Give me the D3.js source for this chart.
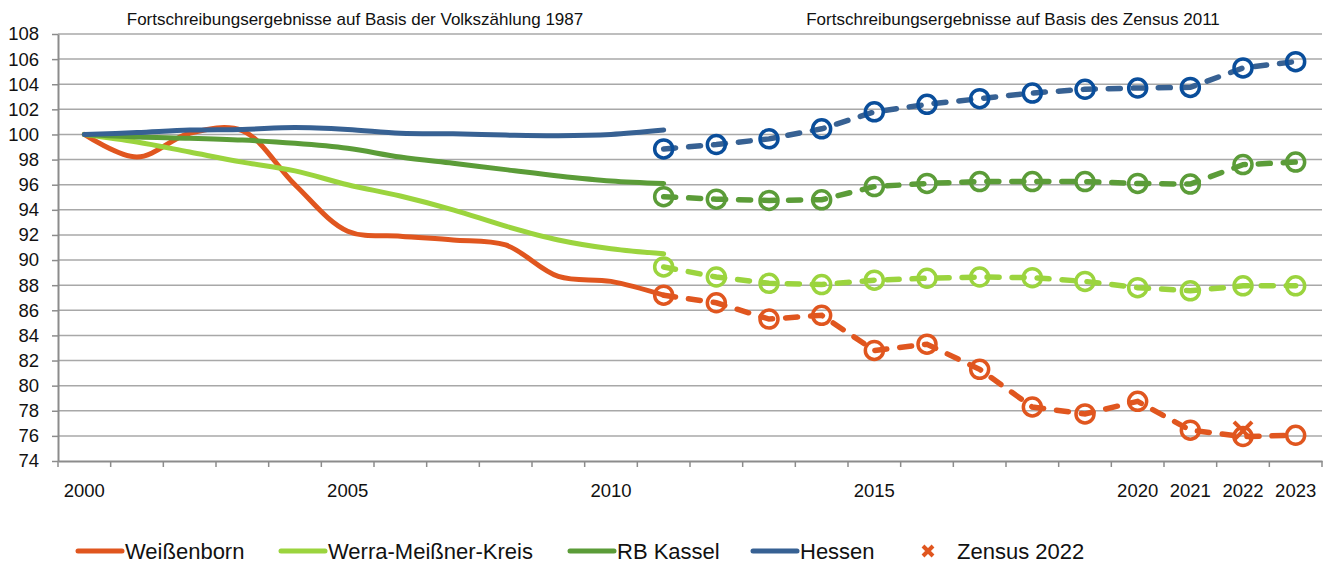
<!DOCTYPE html>
<html>
<head>
<meta charset="utf-8">
<script src="https://cdn.jsdelivr.net/npm/d3@7"></script>
<style>
  body { margin: 0; background: #fff; }
  svg { display: block; font-family: "Liberation Sans", Arial, sans-serif; }
</style>
</head>
<body>
<svg id="chart" width="1329" height="565"></svg>
<script>
// years on the category axis
var years = ["2000","2001","2002","2003","2004","2005","2006","2007","2008","2009","2010","2011",
  "2012","2013","2014","2015","2016","2017","2018","2019","2020","2021","2022","2023"];
var labelYears = ["2000","2005","2010","2015","2020","2021","2022","2023"];
var yTicks = [74,76,78,80,82,84,86,88,90,92,94,96,98,100,102,104,106,108];

// Fortschreibung auf Basis der Volkszaehlung 1987 (2000-2011)
var yearsVz = years.slice(0, 12);
var weissVz  = [100, 98.2, 100.1, 100.3, 96.0, 92.3, 91.9, 91.6, 91.2, 88.7, 88.3, 87.2];
var wmkVz    = [100, 99.4, 98.6, 97.8, 97.1, 96.0, 95.1, 94.0, 92.7, 91.6, 90.9, 90.5];
var rbkVz    = [100, 99.8, 99.7, 99.55, 99.3, 98.9, 98.2, 97.7, 97.2, 96.7, 96.3, 96.1];
var hessenVz = [100, 100.15, 100.35, 100.4, 100.55, 100.4, 100.1, 100.05, 99.95, 99.9, 100.0, 100.35];

// Fortschreibung auf Basis des Zensus 2011 (2011-2023)
var yearsZ = years.slice(11);
var weissZ  = [87.2, 86.6, 85.3, 85.6, 82.8, 83.3, 81.3, 78.3, 77.75, 78.75, 76.45, 75.95, 76.05];
var wmkZ    = [89.45, 88.65, 88.15, 88.05, 88.4, 88.55, 88.65, 88.6, 88.3, 87.8, 87.55, 87.95, 87.95];
var rbkZ    = [95.05, 94.85, 94.75, 94.8, 95.85, 96.1, 96.25, 96.25, 96.25, 96.1, 96.05, 97.6, 97.8];
var hessenZ = [98.85, 99.2, 99.65, 100.45, 101.8, 102.4, 102.85, 103.3, 103.6, 103.7, 103.75, 105.3, 105.8];

// Zensus 2022 point for Weissenborn
var zensusYear = "2022";
var zensusVal = 76.4;

var names  = ["Weißenborn", "Werra-Meißner-Kreis", "RB Kassel", "Hessen"];
var colors = ["#E0561F", "#9BD43E", "#5B9C38", "#376193"];
var markerColors = ["#E0561F", "#9BD43E", "#5B9C38", "#0A4E9B"];
var vzData = [weissVz, wmkVz, rbkVz, hessenVz];
var zData  = [weissZ, wmkZ, rbkZ, hessenZ];

var svg = d3.select("#chart");
var x = d3.scaleBand().domain(years).range([58, 1322]);
var cx = function (yr) { return x(yr) + x.bandwidth() / 2; };
var y = d3.scaleLinear().domain([74, 108]).range([461, 34]);

// grid
svg.append("g").selectAll("line").data(yTicks.slice(1)).join("line")
  .attr("x1", 58).attr("x2", 1322)
  .attr("y1", function (d) { return y(d); }).attr("y2", function (d) { return y(d); })
  .attr("stroke", "#A8A8A8").attr("stroke-width", 1.5);

// y axis
var yAxis = svg.append("g").attr("transform", "translate(58,0)")
  .call(d3.axisLeft(y).tickValues(yTicks).tickSize(6).tickSizeOuter(0).tickPadding(13));
yAxis.select(".domain").attr("stroke", "#8C8C8C").attr("stroke-width", 2);
yAxis.selectAll(".tick line").attr("stroke", "#8C8C8C").attr("stroke-width", 1.5);
yAxis.selectAll(".tick text").attr("font-size", "18.5px").attr("fill", "#111")
  .attr("font-family", "Liberation Sans, Arial, sans-serif");

// x axis
var xAxis = svg.append("g").attr("transform", "translate(0,461)")
  .call(d3.axisBottom(x).tickValues(labelYears).tickSize(0).tickSizeOuter(0).tickPadding(23));
xAxis.select(".domain").attr("stroke", "#8C8C8C").attr("stroke-width", 2);
xAxis.selectAll(".tick text").attr("font-size", "18.5px").attr("fill", "#111")
  .attr("font-family", "Liberation Sans, Arial, sans-serif");
xAxis.append("g").selectAll("line").data(years.concat(["end"])).join("line")
  .attr("x1", function (d) { return d === "end" ? x.range()[1] : x(d); })
  .attr("x2", function (d) { return d === "end" ? x.range()[1] : x(d); })
  .attr("y1", 0).attr("y2", 6)
  .attr("stroke", "#8C8C8C").attr("stroke-width", 1.5);

// top annotations
svg.append("text").attr("x", 355).attr("y", 25).attr("text-anchor", "middle")
  .attr("font-size", "17px").attr("fill", "#111")
  .text("Fortschreibungsergebnisse auf Basis der Volkszählung 1987");
svg.append("text").attr("x", 1013).attr("y", 25).attr("text-anchor", "middle")
  .attr("font-size", "17px").attr("fill", "#111")
  .text("Fortschreibungsergebnisse auf Basis des Zensus 2011");

// solid lines (smoothed)
var lineVz = d3.line()
  .x(function (d, i) { return cx(yearsVz[i]); })
  .y(function (d) { return y(d); })
  .curve(d3.curveCatmullRom.alpha(0.5));
svg.append("g").selectAll("path").data(vzData).join("path")
  .attr("d", lineVz).attr("fill", "none")
  .attr("stroke", function (d, i) { return colors[i]; })
  .attr("stroke-width", 5).attr("stroke-linecap", "round").attr("stroke-linejoin", "round");

// dashed lines
var lineZ = d3.line()
  .x(function (d, i) { return cx(yearsZ[i]); })
  .y(function (d) { return y(d); });
svg.append("g").selectAll("path").data(zData).join("path")
  .attr("d", lineZ).attr("fill", "none")
  .attr("stroke", function (d, i) { return colors[i]; })
  .attr("stroke-width", 5.5).attr("stroke-dasharray", "12,13")
  .attr("stroke-linecap", "round");

// zensus 2022 cross
var xs = 9;
var zx = cx(zensusYear), zy = y(zensusVal);
svg.append("path")
  .attr("d", "M" + (zx - xs) + "," + (zy - xs) + "L" + (zx + xs) + "," + (zy + xs) +
             "M" + (zx - xs) + "," + (zy + xs) + "L" + (zx + xs) + "," + (zy - xs))
  .attr("stroke", colors[0]).attr("stroke-width", 4).attr("fill", "none");

// circle markers
zData.forEach(function (series, k) {
  svg.append("g").selectAll("circle").data(series).join("circle")
    .attr("cx", function (d, i) { return cx(yearsZ[i]); })
    .attr("cy", function (d) { return y(d); })
    .attr("r", 9)
    .attr("fill", "none")
    .attr("stroke", markerColors[k])
    .attr("stroke-width", 3.5);
});

// legend
var legX = [78, 281, 570, 753, 923];
var leg = svg.append("g").attr("font-size", "22px").attr("fill", "#111");
names.forEach(function (n, i) {
  leg.append("line").attr("x1", legX[i]).attr("x2", legX[i] + 44)
    .attr("y1", 551).attr("y2", 551)
    .attr("stroke", colors[i]).attr("stroke-width", 5).attr("stroke-linecap", "round");
  leg.append("text").attr("x", legX[i] + 47).attr("y", 559).text(n);
});
var lx = legX[4] + 5, ly = 551, ls = 5;
leg.append("path")
  .attr("d", "M" + (lx - ls) + "," + (ly - ls) + "L" + (lx + ls) + "," + (ly + ls) +
             "M" + (lx - ls) + "," + (ly + ls) + "L" + (lx + ls) + "," + (ly - ls))
  .attr("stroke", colors[0]).attr("stroke-width", 4);
leg.append("text").attr("x", 957).attr("y", 559).text("Zensus 2022");
</script>
</body>
</html>
